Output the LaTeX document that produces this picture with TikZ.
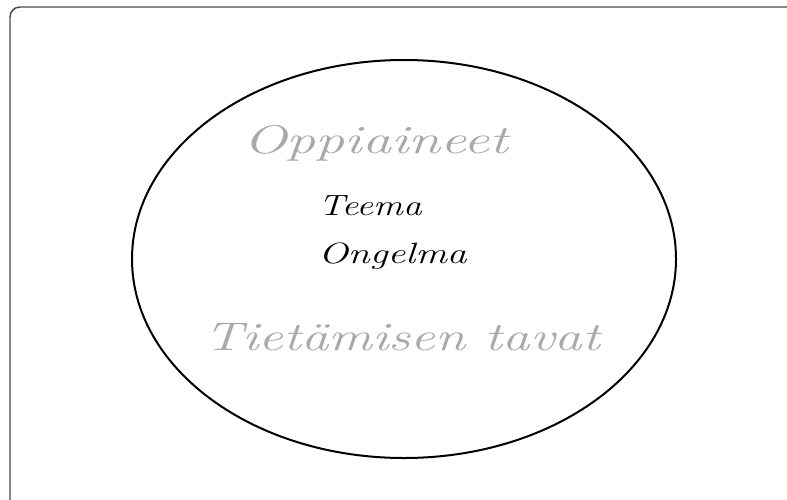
\documentclass[tikz,border=0pt]{standalone}
\usepackage{tikz}
\usepackage{xcolor}

\definecolor{lightink}{HTML}{A9A9A9}
\definecolor{frameink}{HTML}{4A4A4A}

% stretched handwriting-like text
\newcommand{\widetxt}[2]{\scalebox{#1}[1]{#2}}

\begin{document}
\begin{tikzpicture}[
    x=0.75pt, y=-0.75pt,
    % Custom styles for the frame, the ellipse and the words
    frame/.style={frameink, line width=1.1pt, rounded corners=7.5pt},
    oval/.style={black, line width=1.5pt},
    bigword/.style={lightink, anchor=base, inner sep=0pt,
        font=\fontsize{30}{36}\selectfont\itshape},
    smallword/.style={black, anchor=base west, inner sep=0pt,
        font=\fontsize{22}{26}\selectfont\itshape}
]

% ==========================================
% CANVAS AND FRAME
% ==========================================
\useasboundingbox (0,0) rectangle (787,499);
\fill[white] (0,0) rectangle (787,499);
\draw[frame] (790,7) -- (10,7) -- (10,502);

% ==========================================
% THE ELLIPSE
% ==========================================
\draw[oval] (404,259) ellipse [x radius=272, y radius=199];

% ==========================================
% THE WORDS
% ==========================================
\node[bigword] (subjects) at (376,153) {\widetxt{1.45}{Oppiaineet}};
\node[smallword] (theme) at (318,215) {\widetxt{1.27}{Teema}};
\node[smallword] (problem) at (318,263) {\widetxt{1.35}{Ongelma}};
\node[bigword] (ways) at (402,350) {\widetxt{1.37}{Tietämisen tavat}};

\end{tikzpicture}
\end{document}
